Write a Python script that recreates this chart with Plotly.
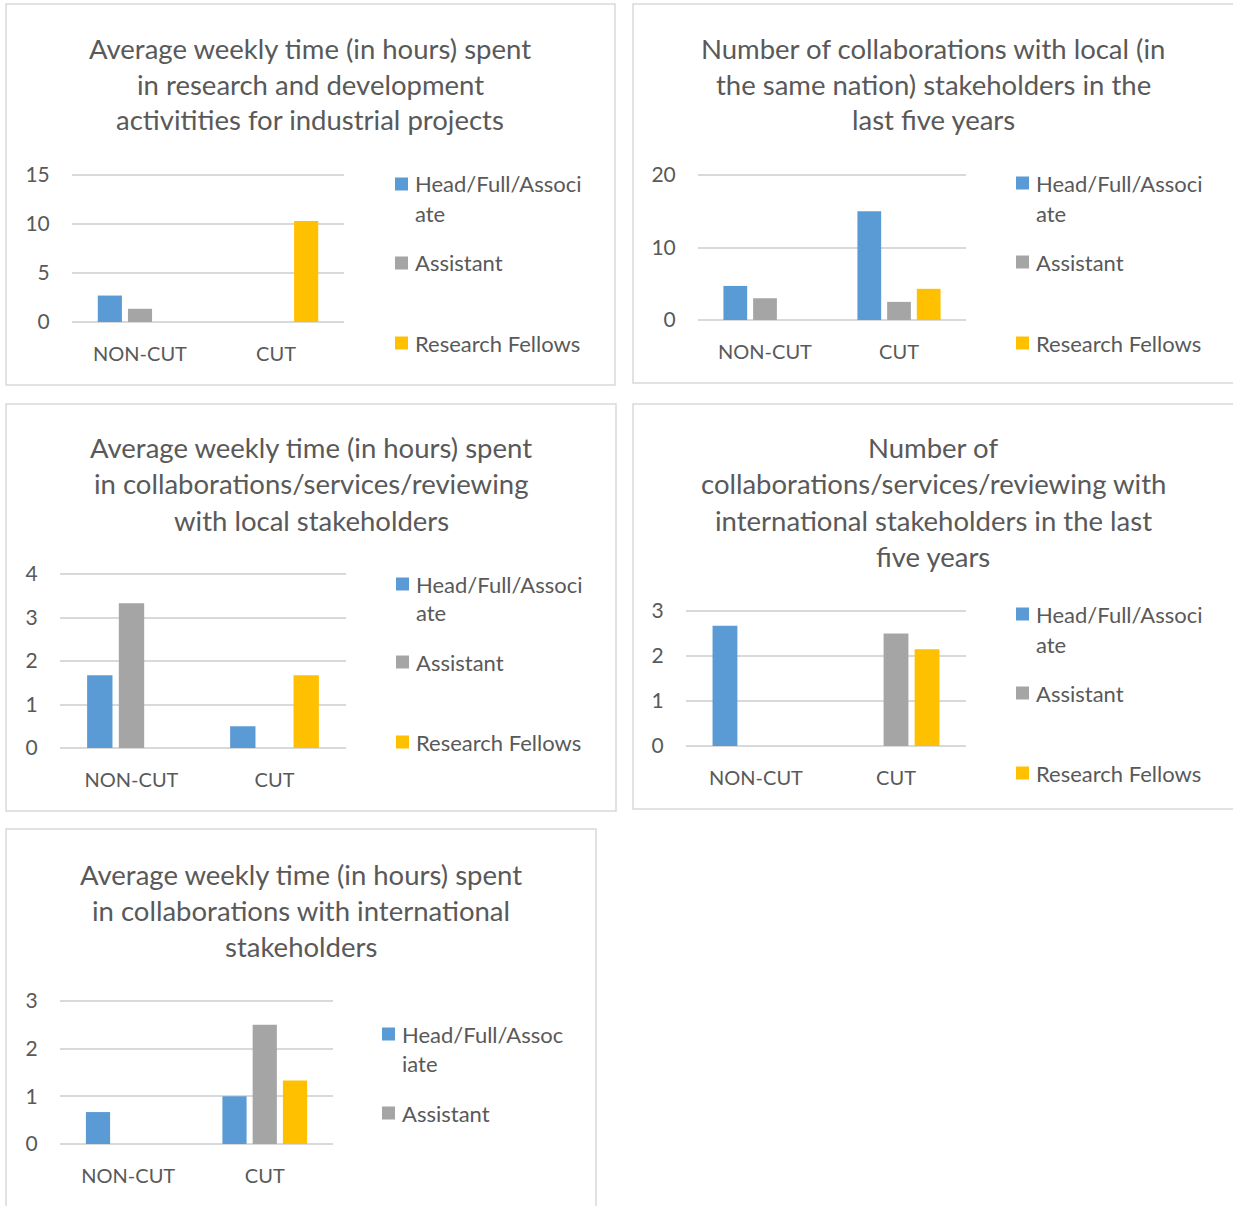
import plotly.graph_objects as go

W, H = 1233, 1206

categories = ["NON-CUT", "CUT"]
series_names = ["Head/Full/Associate", "Assistant", "Research Fellows"]
series_colors = ["#5B9BD5", "#A5A5A5", "#FFC000"]

# panel values: [NON-CUT, CUT]
p1_head = [2.7, 0]
p1_assistant = [1.35, 0]
p1_fellows = [0, 10.3]

p2_head = [4.7, 15]
p2_assistant = [3.0, 2.5]
p2_fellows = [0, 4.3]

p3_head = [1.67, 0.5]
p3_assistant = [3.33, 0]
p3_fellows = [0, 1.67]

p4_head = [2.67, 0]
p4_assistant = [0, 2.5]
p4_fellows = [0, 2.15]

p5_head = [0.67, 1.0]
p5_assistant = [0, 2.5]
p5_fellows = [0, 1.33]

p1_ticks = [0, 5, 10, 15]
p2_ticks = [0, 10, 20]
p3_ticks = [0, 1, 2, 3, 4]
p4_ticks = [0, 1, 2, 3]
p5_ticks = [0, 1, 2, 3]

titles = [
    ["Average weekly time (in hours) spent", "in research and development", "activitities for industrial projects"],
    ["Number of collaborations with local (in", "the same nation) stakeholders in the", "last five years"],
    ["Average weekly time (in hours) spent", "in collaborations/services/reviewing", "with local stakeholders"],
    ["Number of", "collaborations/services/reviewing with", "international stakeholders in the last", "five years"],
    ["Average weekly time (in hours) spent", "in collaborations with international", "stakeholders"],
]

# ---------------- layout geometry (pixels) ----------------
panels = [
    dict(data=[p1_head, p1_assistant, p1_fellows], ticks=p1_ticks,
         plot=(72, 344, 175, 322), border=(6, 615, 4, 385),
         title_x=310, title_y=[48, 84, 120],
         leg_sq=395, leg_tx=413, leg_y=[184, 213, 263, 343]),
    dict(data=[p2_head, p2_assistant, p2_fellows], ticks=p2_ticks,
         plot=(698, 966, 175, 320), border=(633, 1240, 4, 383),
         title_x=933, title_y=[48, 84, 120],
         leg_sq=1016, leg_tx=1034, leg_y=[183, 213, 262, 343]),
    dict(data=[p3_head, p3_assistant, p3_fellows], ticks=p3_ticks,
         plot=(60, 346, 574, 748), border=(6, 616, 404, 811),
         title_x=311, title_y=[448, 484, 520],
         leg_sq=396, leg_tx=414, leg_y=[584, 612, 662, 742]),
    dict(data=[p4_head, p4_assistant, p4_fellows], ticks=p4_ticks,
         plot=(686, 966, 611, 746), border=(633, 1240, 404, 809),
         title_x=933, title_y=[448, 484, 520, 556],
         leg_sq=1016, leg_tx=1034, leg_y=[614, 644, 693, 773]),
    dict(data=[p5_head, p5_assistant, p5_fellows], ticks=p5_ticks,
         plot=(60, 333, 1001, 1144), border=(6, 596, 829, 1240),
         title_x=301, title_y=[874, 910, 946],
         leg_sq=382, leg_tx=400, leg_y=[1034, 1063, 1113, None], leg_line1="Head/Full/Assoc", leg_line2="iate"),
]

FONT = "Lato"
TXT = "#595959"
GRID = "#D9D9D9"


def fx(px):
    return px / W


def fy(py):
    return 1 - py / H


fig = go.Figure()
shapes = []
annotations = []

for i, p in enumerate(panels, start=1):
    xa = "x" if i == 1 else f"x{i}"
    ya = "y" if i == 1 else f"y{i}"
    for name, vals, col in zip(series_names, p["data"], series_colors):
        fig.add_trace(go.Bar(x=categories, y=vals, name=name, marker_color=col,
                             marker_line_width=0, xaxis=xa, yaxis=ya, showlegend=False))
    x0, x1, y0, y1 = p["plot"]
    ticks = p["ticks"]
    top = max(ticks)
    # extend by 1.5 px so the top gridline is not clipped
    ext = 1.5
    rmax = top + top * ext / (y1 - y0)
    xkey = "xaxis" if i == 1 else f"xaxis{i}"
    ykey = "yaxis" if i == 1 else f"yaxis{i}"
    fig.layout[xkey] = dict(domain=[fx(x0), fx(x1)], anchor=ya, type="category",
                            showgrid=False, showline=False, zeroline=False, automargin=False,
                            ticks="outside", ticklen=14, tickcolor="rgba(0,0,0,0)",
                            tickfont=dict(family=FONT, size=20, color=TXT), fixedrange=True)
    fig.layout[ykey] = dict(domain=[fy(y1), fy(y0 - ext)], anchor=xa, range=[0, rmax],
                            tickvals=ticks, showgrid=True, gridcolor=GRID, gridwidth=1.5,
                            zeroline=True, zerolinecolor=GRID, zerolinewidth=1.5, showline=False,
                            automargin=False,
                            ticks="outside", ticklen=17, tickcolor="rgba(0,0,0,0)",
                            tickfont=dict(family=FONT, size=21, color=TXT), fixedrange=True)

    bx0, bx1, by0, by1 = p["border"]
    shapes.append(dict(type="rect", xref="paper", yref="paper",
                       x0=fx(bx0), x1=fx(bx1), y0=fy(by1), y1=fy(by0),
                       line=dict(color=GRID, width=1.5), fillcolor="rgba(0,0,0,0)", layer="below"))

    for line, ty in zip(titles[i - 1], p["title_y"]):
        annotations.append(dict(text=line, xref="paper", yref="paper", x=fx(p["title_x"]), y=fy(ty),
                                xanchor="center", yanchor="middle", showarrow=False,
                                font=dict(family=FONT, size=27.5, color=TXT)))

    ly = p["leg_y"]
    l1 = p.get("leg_line1", "Head/Full/Associ")
    l2 = p.get("leg_line2", "ate")
    items = [(l1, ly[0], series_colors[0]), (series_names[1], ly[2], series_colors[1]),
             (series_names[2], ly[3], series_colors[2])]
    for text, yy, col in items:
        if yy is None:
            continue
        shapes.append(dict(type="rect", xref="paper", yref="paper",
                           x0=fx(p["leg_sq"]), x1=fx(p["leg_sq"] + 13),
                           y0=fy(yy + 6.5), y1=fy(yy - 6.5), line=dict(width=0), fillcolor=col))
        annotations.append(dict(text=text, xref="paper", yref="paper", x=fx(p["leg_tx"]), y=fy(yy),
                                xanchor="left", yanchor="middle", showarrow=False,
                                font=dict(family=FONT, size=22, color=TXT)))
    annotations.append(dict(text=l2, xref="paper", yref="paper", x=fx(p["leg_tx"]), y=fy(ly[1]),
                            xanchor="left", yanchor="middle", showarrow=False,
                            font=dict(family=FONT, size=22, color=TXT)))

fig.update_layout(width=W, height=H, margin=dict(l=0, r=0, t=0, b=0, pad=0, autoexpand=False),
                  paper_bgcolor="white", plot_bgcolor="white",
                  barmode="group", bargap=0.335, bargroupgap=0.2,
                  shapes=shapes, annotations=annotations, showlegend=False)

fig.write_html("out.html")
